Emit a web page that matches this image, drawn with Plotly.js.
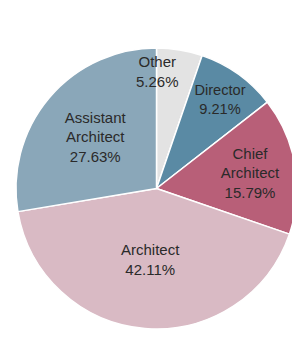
<!DOCTYPE html>
<html>
<head>
<meta charset="utf-8">
<script src="https://cdn.plot.ly/plotly-3.0.1.min.js"></script>
<style>
html, body { margin: 0; padding: 0; background: #ffffff; overflow: hidden; width: 292px; height: 343px; }
#chart { width: 310px; height: 343px; }
</style>
</head>
<body>
<div id="chart"></div>
<script>
var categories = ["Other", "Director", "Chief Architect", "Architect", "Assistant Architect"];
var displayLabels = ["Other", "Director", "Chief<br>Architect", "Architect", "Assistant<br>Architect"];
var counts = [4, 7, 12, 32, 21];
var sliceColors = ["#e3e3e3", "#5a8aa4", "#b85f78", "#d9bac4", "#8aa7b9"];

var total = counts.reduce(function (a, b) { return a + b; }, 0);
var textFont = { family: "Liberation Sans, Arial, sans-serif", size: 15, color: "#2a2a2a" };

// The small "Other" slice's label overflows its slice in the reference, so it is drawn as an annotation
var textPositions = categories.map(function (c, i) { return i === 0 ? "none" : "inside"; });

var trace = {
  type: "pie",
  labels: categories,
  values: counts,
  text: displayLabels,
  sort: false,
  direction: "clockwise",
  rotation: 0,
  texttemplate: "%{text}<br>%{percent:.2%}",
  textposition: textPositions,
  insidetextorientation: "horizontal",
  insidetextfont: textFont,
  marker: { colors: sliceColors, line: { color: "#ffffff", width: 1.5 } },
  hoverinfo: "label+percent",
  showlegend: false
};

var layout = {
  width: 310,
  height: 343,
  margin: { l: 16, r: 13, t: 48, b: 14, pad: 0 },
  paper_bgcolor: "#ffffff",
  showlegend: false,
  annotations: [{
    xref: "paper", yref: "paper",
    x: 0.505, y: 0.918,
    xanchor: "center", yanchor: "middle",
    showarrow: false,
    text: displayLabels[0] + "<br>" + (100 * counts[0] / total).toFixed(2) + "%",
    font: textFont
  }]
};

Plotly.newPlot("chart", [trace], layout, { displayModeBar: false, staticPlot: true });
</script>
</body>
</html>
